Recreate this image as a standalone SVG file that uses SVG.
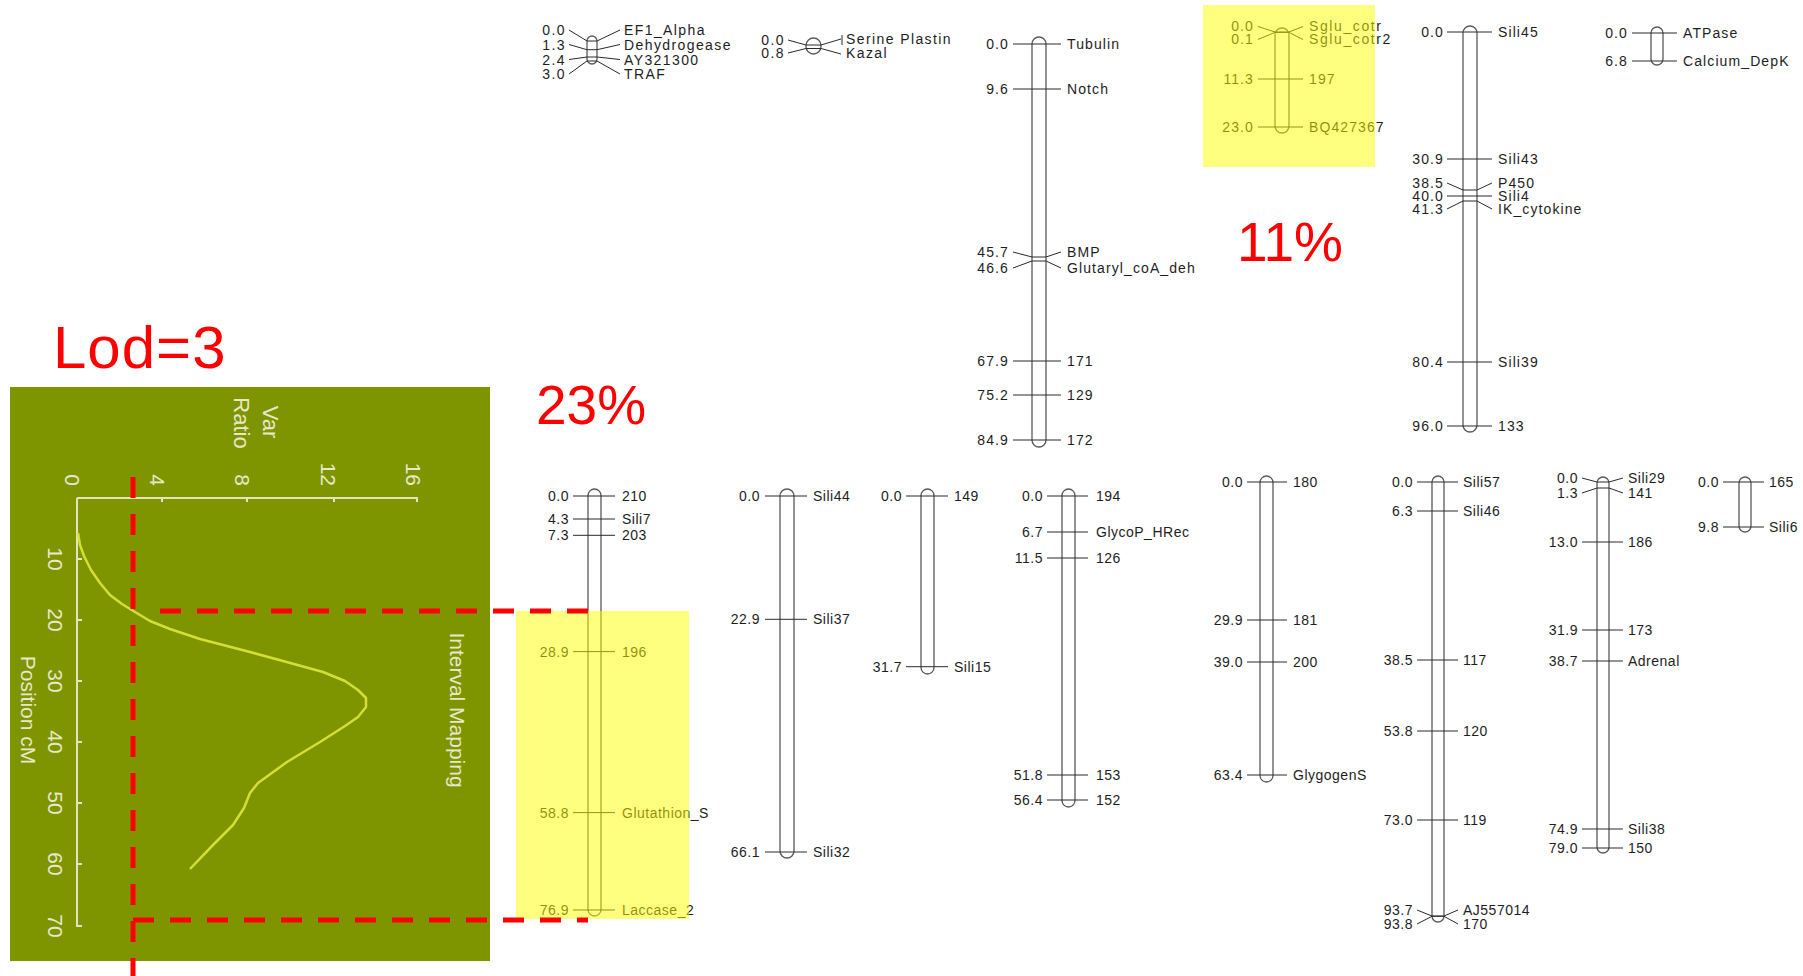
<svg xmlns="http://www.w3.org/2000/svg" width="1803" height="976" viewBox="0 0 1803 976">
<style>
.cap{fill:none;stroke:#5a5a5a;stroke-width:1.3}
.mk{fill:none;stroke:#2a2a2a;stroke-width:1}
.t{font-family:"Liberation Sans",Arial,sans-serif;font-size:14px;fill:#1e1e1e}
.e{text-anchor:end}
.s1{letter-spacing:1.4px}
.s2{letter-spacing:1.1px}
.s3{letter-spacing:0.5px}
.big{font-family:"Liberation Sans",Arial,sans-serif;fill:#ff0000}
.pl{font-family:"Liberation Sans",Arial,sans-serif;fill:#e8e8c8}
.ax{fill:none;stroke:#e4e4bc;stroke-width:2}
.hl{fill:#ffff00;opacity:0.5}
.dash{fill:none;stroke:#ff0000;stroke-width:5;stroke-dasharray:21 16}
</style>
<rect width="1803" height="976" fill="#ffffff"/>

<!-- QTL plot panel -->
<g id="qtl-panel">
<rect x="10" y="387" width="480" height="574" fill="#7f9500"/>
<path class="ax" d="M77 498H418M162 498v4M247 498v4M334 498v4M417 498v4M77 498V927M77 559h5M77 620h5M77 681h5M77 742h5M77 803h5M77 864h5M77 926h5"/>
<g class="pl" font-size="21" text-anchor="end">
<text transform="translate(65,486) rotate(90)">0</text>
<text transform="translate(150,486) rotate(90)">4</text>
<text transform="translate(235,486) rotate(90)">8</text>
<text transform="translate(321,486) rotate(90)">12</text>
<text transform="translate(406,486) rotate(90)">16</text>
</g>
<g class="pl" font-size="21" text-anchor="middle">
<text transform="translate(48,559) rotate(90)">10</text>
<text transform="translate(48,620) rotate(90)">20</text>
<text transform="translate(48,681) rotate(90)">30</text>
<text transform="translate(48,742) rotate(90)">40</text>
<text transform="translate(48,803) rotate(90)">50</text>
<text transform="translate(48,864) rotate(90)">60</text>
<text transform="translate(48,926) rotate(90)">70</text>
<text transform="translate(21,710) rotate(90)">Position cM</text>
<text transform="translate(450,710) rotate(90)">Interval Mapping</text>
</g>
<g class="pl" font-size="22" text-anchor="middle">
<text transform="translate(263,422) rotate(90)">Var</text>
<text transform="translate(234,423) rotate(90)">Ratio</text>
</g>
<path d="M78 533 L80 545 L84 556 L91 570 L100 583 L110 595 L122 604 L135 612 L150 621 L170 629 L200 639 L250 652 L283 661 L323 672 L345 681 L358 690 L366 698 L366 707 L358 717 L345 726 L320 742 L287 762 L258 783 L250 793 L244 808 L233 825 L213 845 L190 869" fill="none" stroke="#d4df34" stroke-width="2.5" stroke-linejoin="round"/>
</g>

<text class="big" x="53" y="368" font-size="60" letter-spacing="1">Lod=3</text>
<text class="big" x="536" y="424" font-size="55">23%</text>
<text class="big" x="1237" y="261" font-size="55">11%</text>

<!-- Top row linkage groups -->
<g id="lg-ef1" class="s1">
<rect class="cap" x="587" y="36" width="10" height="28" rx="5"/>
<path class="mk" d="M587 41H597M587 49.7H597M587 57H597M587 61H597"/>
<path class="mk" d="M569 30L587 41M569 44.5L587 49.7M569 59.5L587 57M569 74L587 61M597 41L620 30M597 49.7L620 44.5M597 57L620 59.5M597 61L620 74"/>
<text class="t e" x="566" y="35">0.0</text>
<text class="t e" x="566" y="49.5">1.3</text>
<text class="t e" x="566" y="64.5">2.4</text>
<text class="t e" x="566" y="79">3.0</text>
<text class="t" x="624" y="35">EF1_Alpha</text>
<text class="t" x="624" y="49.5">Dehydrogease</text>
<text class="t" x="624" y="64.5">AY321300</text>
<text class="t" x="624" y="79">TRAF</text>
</g>

<g id="lg-serine" class="s1">
<rect class="cap" x="806" y="38" width="15" height="16" rx="7.5"/>
<path class="mk" d="M806 45H821M806 48.5H821"/>
<path class="mk" d="M788 40L806 45M788 53L806 48.5M821 45L841 39M842 35V45M821 48.5L841 54"/>
<text class="t e" x="785" y="45">0.0</text>
<text class="t e" x="785" y="58">0.8</text>
<text class="t" x="846" y="44">Serine Plastin</text>
<text class="t" x="846" y="58">Kazal</text>
</g>

<g id="lg-tubulin" class="s2">
<rect class="cap" x="1032" y="37" width="14" height="410" rx="7"/>
<path class="mk" d="M1013 44H1061M1013 89H1061M1013 252L1032 257H1046L1061 252M1013 268L1032 261H1046L1061 268M1013 361H1061M1013 395H1061M1013 440H1061"/>
<text class="t e" x="1009" y="49">0.0</text>
<text class="t e" x="1009" y="94">9.6</text>
<text class="t e" x="1009" y="257">45.7</text>
<text class="t e" x="1009" y="273">46.6</text>
<text class="t e" x="1009" y="366">67.9</text>
<text class="t e" x="1009" y="400">75.2</text>
<text class="t e" x="1009" y="445">84.9</text>
<text class="t" x="1067" y="49">Tubulin</text>
<text class="t" x="1067" y="94">Notch</text>
<text class="t" x="1067" y="257">BMP</text>
<text class="t" x="1067" y="273">Glutaryl_coA_deh</text>
<text class="t" x="1067" y="366">171</text>
<text class="t" x="1067" y="400">129</text>
<text class="t" x="1067" y="445">172</text>
</g>

<g id="lg-sglu" class="s2">
<rect class="cap" x="1275" y="28" width="14" height="105" rx="7"/>
<path class="mk" d="M1258 26.5L1275 32H1289L1303 26.5M1258 39.5L1275 32.4H1289L1303 39.5M1258 79H1303M1258 127H1303"/>
<text class="t e" x="1254" y="31" font-size="13">0.0</text>
<text class="t e" x="1254" y="44" font-size="13">0.1</text>
<text class="t e" x="1254" y="84">11.3</text>
<text class="t e" x="1254" y="132">23.0</text>
<text class="t" x="1309" y="31" font-size="13" letter-spacing="1.6">Sglu_cotr</text>
<text class="t" x="1309" y="44" font-size="13" letter-spacing="1.6">Sglu_cotr2</text>
<text class="t" x="1309" y="84">197</text>
<text class="t" x="1309" y="132">BQ427367</text>
</g>

<g id="lg-sili45" class="s2">
<rect class="cap" x="1463" y="26" width="14" height="406" rx="7"/>
<path class="mk" d="M1447 32H1492M1447 159H1492M1447 183L1463 190H1477L1492 183M1447 196H1492M1447 209L1463 201H1477L1492 209M1447 362H1492M1447 426H1492"/>
<text class="t e" x="1444" y="37">0.0</text>
<text class="t e" x="1444" y="164">30.9</text>
<text class="t e" x="1444" y="188">38.5</text>
<text class="t e" x="1444" y="201">40.0</text>
<text class="t e" x="1444" y="214">41.3</text>
<text class="t e" x="1444" y="367">80.4</text>
<text class="t e" x="1444" y="431">96.0</text>
<text class="t" x="1498" y="37">Sili45</text>
<text class="t" x="1498" y="164">Sili43</text>
<text class="t" x="1498" y="188">P450</text>
<text class="t" x="1498" y="201">Sili4</text>
<text class="t" x="1498" y="214">IK_cytokine</text>
<text class="t" x="1498" y="367">Sili39</text>
<text class="t" x="1498" y="431">133</text>
</g>

<g id="lg-atpase" class="s2">
<rect class="cap" x="1651" y="27" width="12" height="38" rx="6"/>
<path class="mk" d="M1632 33H1677M1632 61H1677"/>
<text class="t e" x="1628" y="38">0.0</text>
<text class="t e" x="1628" y="66">6.8</text>
<text class="t" x="1683" y="38">ATPase</text>
<text class="t" x="1683" y="66">Calcium_DepK</text>
</g>

<!-- Bottom row linkage groups -->
<g id="lg-210" class="s3">
<rect class="cap" x="588" y="489" width="13" height="427" rx="6.5"/>
<path class="mk" d="M573 496H615M573 519H615M573 535.3H615M573 651.6H615M573 812.6H615M573 910H615"/>
<text class="t e" x="569" y="501">0.0</text>
<text class="t e" x="569" y="524">4.3</text>
<text class="t e" x="569" y="540">7.3</text>
<text class="t e" x="569" y="657">28.9</text>
<text class="t e" x="569" y="818">58.8</text>
<text class="t e" x="569" y="915">76.9</text>
<text class="t" x="622" y="501">210</text>
<text class="t" x="622" y="524">Sili7</text>
<text class="t" x="622" y="540">203</text>
<text class="t" x="622" y="657">196</text>
<text class="t" x="622" y="818">Glutathion_S</text>
<text class="t" x="622" y="915">Laccase_2</text>
</g>

<g id="lg-sili44" class="s3">
<rect class="cap" x="780" y="489" width="14" height="369" rx="7"/>
<path class="mk" d="M765 496H807M765 619.3H807M765 852H807"/>
<text class="t e" x="760" y="501">0.0</text>
<text class="t e" x="760" y="624">22.9</text>
<text class="t e" x="760" y="857">66.1</text>
<text class="t" x="813" y="501">Sili44</text>
<text class="t" x="813" y="624">Sili37</text>
<text class="t" x="813" y="857">Sili32</text>
</g>

<g id="lg-149" class="s3">
<rect class="cap" x="921" y="489" width="13" height="185" rx="6.5"/>
<path class="mk" d="M906 496H948M906 666.7H948"/>
<text class="t e" x="902" y="501">0.0</text>
<text class="t e" x="902" y="672">31.7</text>
<text class="t" x="954" y="501">149</text>
<text class="t" x="954" y="672">Sili15</text>
</g>

<g id="lg-194" class="s3">
<rect class="cap" x="1062" y="489" width="13" height="318" rx="6.5"/>
<path class="mk" d="M1047 496H1088M1047 532H1088M1047 558H1088M1047 775H1088M1047 800H1088"/>
<text class="t e" x="1043" y="501">0.0</text>
<text class="t e" x="1043" y="537">6.7</text>
<text class="t e" x="1043" y="563">11.5</text>
<text class="t e" x="1043" y="780">51.8</text>
<text class="t e" x="1043" y="805">56.4</text>
<text class="t" x="1096" y="501">194</text>
<text class="t" x="1096" y="537">GlycoP_HRec</text>
<text class="t" x="1096" y="563">126</text>
<text class="t" x="1096" y="780">153</text>
<text class="t" x="1096" y="805">152</text>
</g>

<g id="lg-180" class="s3">
<rect class="cap" x="1260" y="476" width="13" height="306" rx="6.5"/>
<path class="mk" d="M1247 482H1287M1247 620H1287M1247 662H1287M1247 775H1287"/>
<text class="t e" x="1243" y="487">0.0</text>
<text class="t e" x="1243" y="625">29.9</text>
<text class="t e" x="1243" y="667">39.0</text>
<text class="t e" x="1243" y="780">63.4</text>
<text class="t" x="1293" y="487">180</text>
<text class="t" x="1293" y="625">181</text>
<text class="t" x="1293" y="667">200</text>
<text class="t" x="1293" y="780">GlygogenS</text>
</g>

<g id="lg-sili57" class="s3">
<rect class="cap" x="1432" y="476" width="12" height="446" rx="6"/>
<path class="mk" d="M1417 482H1458M1417 511H1458M1417 660H1458M1417 731H1458M1417 820H1458M1417 910L1432 916H1444L1458 910M1417 924L1432 916.3H1444L1458 924"/>
<text class="t e" x="1413" y="487">0.0</text>
<text class="t e" x="1413" y="516">6.3</text>
<text class="t e" x="1413" y="665">38.5</text>
<text class="t e" x="1413" y="736">53.8</text>
<text class="t e" x="1413" y="825">73.0</text>
<text class="t e" x="1413" y="915">93.7</text>
<text class="t e" x="1413" y="929">93.8</text>
<text class="t" x="1463" y="487">Sili57</text>
<text class="t" x="1463" y="516">Sili46</text>
<text class="t" x="1463" y="665">117</text>
<text class="t" x="1463" y="736">120</text>
<text class="t" x="1463" y="825">119</text>
<text class="t" x="1463" y="915">AJ557014</text>
<text class="t" x="1463" y="929">170</text>
</g>

<g id="lg-sili29" class="s3">
<rect class="cap" x="1597" y="477" width="12" height="376" rx="6"/>
<path class="mk" d="M1582 478L1597 482H1609L1623 478M1582 493L1597 488H1609L1623 493M1582 542H1623M1582 630H1623M1582 661H1623M1582 829H1623M1582 848H1623"/>
<text class="t e" x="1578" y="483">0.0</text>
<text class="t e" x="1578" y="498">1.3</text>
<text class="t e" x="1578" y="547">13.0</text>
<text class="t e" x="1578" y="635">31.9</text>
<text class="t e" x="1578" y="666">38.7</text>
<text class="t e" x="1578" y="834">74.9</text>
<text class="t e" x="1578" y="853">79.0</text>
<text class="t" x="1628" y="483">Sili29</text>
<text class="t" x="1628" y="498">141</text>
<text class="t" x="1628" y="547">186</text>
<text class="t" x="1628" y="635">173</text>
<text class="t" x="1628" y="666">Adrenal</text>
<text class="t" x="1628" y="834">Sili38</text>
<text class="t" x="1628" y="853">150</text>
</g>

<g id="lg-165" class="s3">
<rect class="cap" x="1739" y="477" width="12" height="55" rx="6"/>
<path class="mk" d="M1723 482H1764M1723 527H1764"/>
<text class="t e" x="1719" y="487">0.0</text>
<text class="t e" x="1719" y="532">9.8</text>
<text class="t" x="1769" y="487">165</text>
<text class="t" x="1769" y="532">Sili6</text>
</g>

<!-- highlight overlays -->
<g id="highlights">
<rect class="hl" x="1203" y="5" width="172" height="162"/>
<rect class="hl" x="516" y="611" width="173" height="308"/>
</g>

<!-- red dashed guide lines -->
<g id="connectors">
<path class="dash" d="M133 477V976"/>
<path class="dash" d="M160 611H588"/>
<path class="dash" d="M133 920H588"/>
</g>
</svg>
